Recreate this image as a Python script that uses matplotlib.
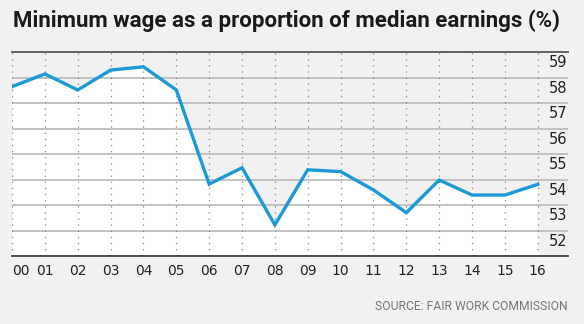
import matplotlib.pyplot as plt
from matplotlib.transforms import blended_transform_factory

# dados
years = ['00', '01', '02', '03', '04', '05', '06', '07', '08',
         '09', '10', '11', '12', '13', '14', '15', '16']
ratio = [58.14, 58.64, 58.01, 58.79, 58.92, 58.01, 54.32, 54.96, 52.72,
         54.88, 54.81, 54.09, 53.20, 54.48, 53.89, 53.89, 54.31]
y_labels = [52, 53, 54, 55, 56, 57, 58, 59]

bg = '#f1f1f1'
blue = '#1b9ad7'

fig = plt.figure(figsize=(5.84, 3.24), dpi=100, facecolor=bg)
ax = fig.add_axes([12 / 584, (324 - 256) / 324, (568 - 12) / 584, (256 - 52) / 324])
ax.set_facecolor(bg)

x = list(range(len(years)))
ymin, ymax = 51.5, 59.5

# area abaixo da linha em branco
ax.fill_between(x, ratio, ymin, color='white', lw=0, zorder=1)

# grade horizontal e vertical
for v in range(52, 60):
    ax.axhline(v - 0.5, color='#bdbdbd', lw=1.3, zorder=2)
for xi in x:
    ax.axvline(xi, color='#8c8c8c', lw=0.9, ls=(0, (1.1, 3.8)), zorder=2)

ax.plot(x, ratio, color=blue, lw=2.4, solid_joinstyle='miter', zorder=3)

ax.set_xlim(0, 16.92)
ax.set_ylim(ymin, ymax)

for s in ['left', 'right']:
    ax.spines[s].set_visible(False)
ax.spines['top'].set_color('#555555')
ax.spines['top'].set_linewidth(1.3)
ax.spines['bottom'].set_color('#444444')
ax.spines['bottom'].set_linewidth(1.3)

ax.set_xticks(x)
ax.set_xticklabels(years, fontsize=10, color='#222222')
ax.tick_params(axis='x', length=0, pad=6)
ax.get_xticklabels()[0].set_horizontalalignment('left')
ax.set_yticks([])

trans = blended_transform_factory(ax.transAxes, ax.transData)
for v in y_labels:
    ax.text(0.999, v + 0.08, str(v), transform=trans, ha='right', va='center',
            fontsize=10.5, color='#222222', zorder=4)

fig.text(13 / 584, 1 - 21 / 324, 'Minimum wage as a proportion of median earnings (%)',
         fontsize=16, fontweight='bold', family='Roboto', color='#1a1a1a',
         ha='left', va='center')
fig.text(568 / 584, 1 - 307 / 324, 'SOURCE: FAIR WORK COMMISSION',
         fontsize=8.7, family='Roboto', color='#777777', ha='right', va='center')

fig.savefig('out.png', dpi=100, facecolor=bg)
